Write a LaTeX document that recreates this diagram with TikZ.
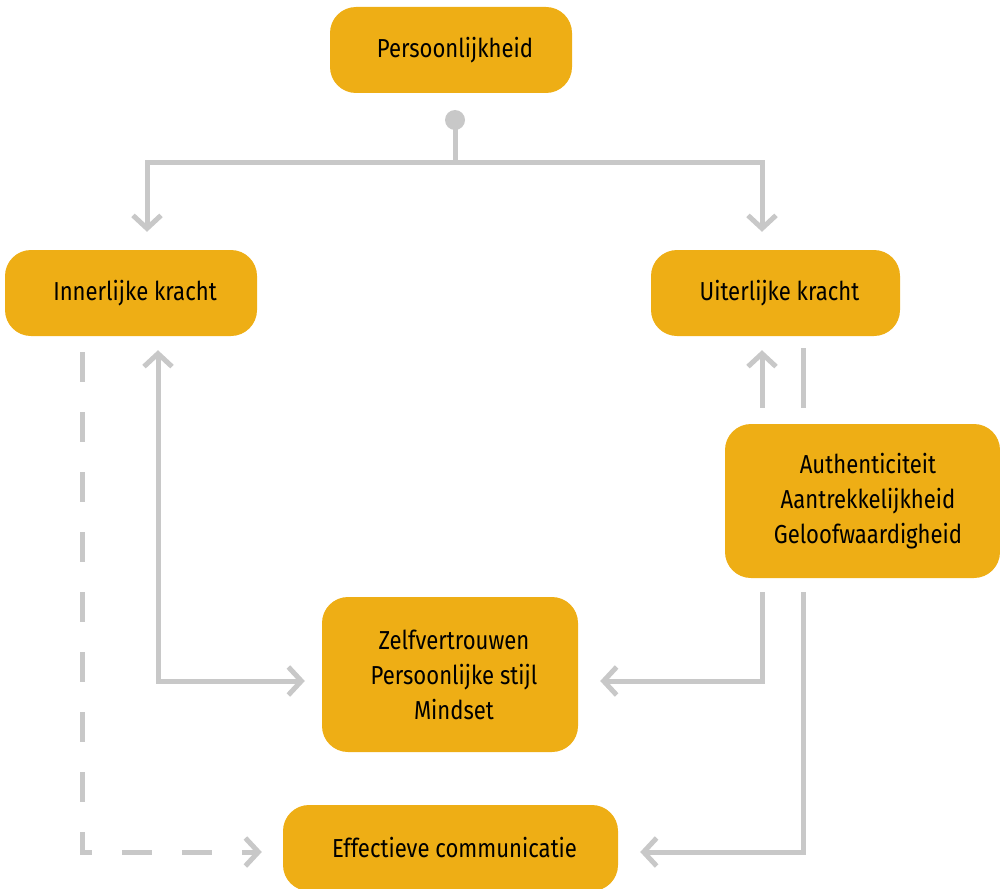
\documentclass[tikz,border=0pt]{standalone}
\usepackage{fontspec}
\setmainfont[FakeStretch=0.85]{Fira Sans}
\usetikzlibrary{arrows.meta,calc}
\definecolor{boxfill}{HTML}{EEAE15}
\definecolor{conngray}{HTML}{C8C8C8}
\newcommand{\sh}{\hspace*{8pt}}
\tikzset{
  box/.style={fill=boxfill, rounded corners=26pt, inner sep=0pt, align=center, font=\fontsize{26}{35}\selectfont, text=black},
  conn/.style={draw=conngray, line width=5pt, arrows={-{Straight Barb[length=13pt,width=28pt,line width=5pt]}}},
  plain/.style={draw=conngray, line width=5pt},
  dashconn/.style={conn, dash pattern=on 30pt off 30pt},
}
\begin{document}
\begin{tikzpicture}[x=1pt,y=-1pt]
\useasboundingbox (0,0) rectangle (1000,888);
\node[box, minimum width=242pt, minimum height=86pt] (P) at (451,50) {\sh Persoonlijkheid};
\node[box, minimum width=252pt, minimum height=86pt] (I) at (131,293) {\sh Innerlijke kracht};
\node[box, minimum width=249pt, minimum height=86pt] (U) at (775.5,293) {\sh Uiterlijke kracht};
\node[box, minimum width=275pt, minimum height=154pt] (A) at (862.5,501) {\hspace*{11pt}Authenticiteit\\\hspace*{11pt}Aantrekkelijkheid\\\hspace*{11pt}Geloofwaardigheid};
\node[box, minimum width=256pt, minimum height=155pt] (Z) at (450,674.5) {\sh Zelfvertrouwen\\\sh Persoonlijke stijl\\\sh Mindset};
\node[box, minimum width=335pt, minimum height=86pt] (E) at (450.5,848) {\sh Effectieve communicatie};

\coordinate (dot) at (455,120);
\coordinate (split) at (455,162);
\fill[conngray] (dot) circle (10pt);
\draw[plain] (dot) -- (split);
\draw[conn] (split) -| ([xshift=16pt,yshift=18pt]I.north);
\draw[conn] (split) -| ([xshift=-13.5pt,yshift=18pt]U.north);

\draw[conn, arrows={{Straight Barb[length=13pt,width=28pt,line width=5pt]}-{Straight Barb[length=13pt,width=28pt,line width=5pt]}}]
  ([xshift=27pt,yshift=-14pt]I.south) |- ([xshift=-17pt,yshift=-6.5pt]Z.west);

\draw[conn] ([xshift=-100.5pt,yshift=16pt]A.north) -- ([xshift=-13.5pt,yshift=-14pt]U.south);
\draw[plain] ([xshift=-59.5pt,yshift=16pt]A.north) -- ([xshift=27.5pt,yshift=-12pt]U.south);

\draw[conn] ([xshift=-100.5pt,yshift=-14pt]A.south) |- ([xshift=22pt,yshift=-6.5pt]Z.east);
\draw[conn] ([xshift=-59.5pt,yshift=-14pt]A.south) |- ([xshift=22pt,yshift=-4pt]E.east);

\draw[dashconn] ([xshift=-49pt,yshift=-16pt]I.south) |- ([xshift=-21pt,yshift=-4pt]E.west);
\end{tikzpicture}
\end{document}
